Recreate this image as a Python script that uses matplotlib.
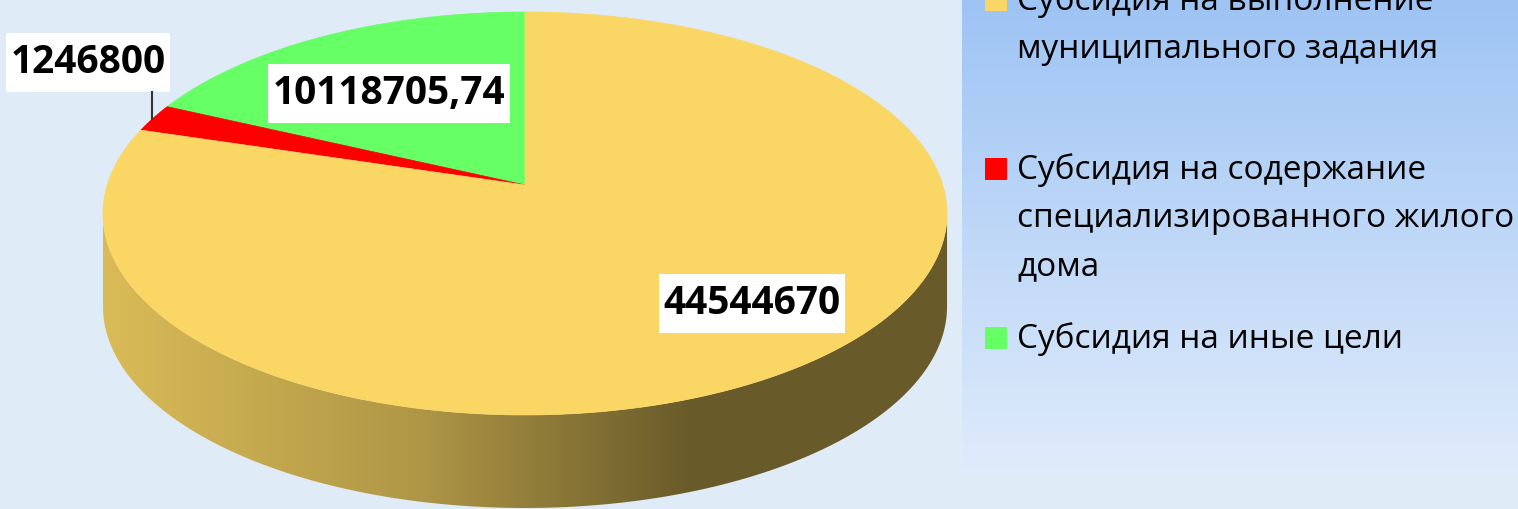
import numpy as np
import matplotlib.pyplot as plt
from matplotlib.patches import Polygon, Rectangle
from matplotlib.colors import to_rgb

# Datos del grafico
etiquetas = ['Субсидия на выполнение\nмуниципального задания',
             'Субсидия на содержание\nспециализированного жилого\nдома',
             'Субсидия на иные цели']
valores = [44544670, 1246800, 10118705.74]
textos = ['44544670', '1246800', '10118705,74']
colores = ['#FAD764', '#FF0000', '#66FF66']

W, H = 1518, 509
fondo = '#DFEBF6'

fig = plt.figure(figsize=(W / 100, H / 100), dpi=100)
fig.patch.set_facecolor(fondo)
ax = fig.add_axes([0, 0, 1, 1])
ax.set_xlim(0, W)
ax.set_ylim(H, 0)
ax.axis('off')

# Proyeccion en perspectiva del disco (coordenadas en pixeles)
cx, cy = 525, 185
a, b, g = 417.8, 171.3, 0.1414
prof = 93


def proyectar(x, y):
    d = 1 + g * y
    return cx + a * x / d, (cy - b * y) / d


def punto(phi, r=1.0):
    # phi en grados, medido desde arriba en sentido antihorario
    t = np.radians(phi)
    return proyectar(-r * np.sin(t), r * np.cos(t))


fracciones = np.array(valores) / np.sum(valores)
# orden de dibujo: verde desde arriba, luego rojo, luego amarillo
orden = [2, 1, 0]
inicio = 0.0
rangos = {}
for i in orden:
    fin = inicio + fracciones[i] * 360
    rangos[i] = (inicio, fin)
    inicio = fin

# Costado visible (frente del cilindro)
phi_izq = np.degrees(np.arccos(-g))
phi_der = 360 - phi_izq
for i in orden:
    p0, p1 = rangos[i]
    s0, s1 = max(p0, phi_izq), min(p1, phi_der)
    if s1 <= s0:
        continue
    ph = np.linspace(s0, s1, 400)
    xs, ys = punto(ph)
    verts = np.vstack([np.column_stack([xs, ys]),
                       np.column_stack([xs[::-1], ys[::-1] + prof])])
    poly = Polygon(verts, closed=True, facecolor='none', edgecolor='none')
    ax.add_patch(poly)
    base = np.array(to_rgb(colores[i]))
    xx = np.linspace(0, 1, 600)
    xpix = xs.min() + xx * (xs.max() - xs.min())
    f = np.interp(xpix, [xs.min(), 420, 690, xs.max()], [0.87, 0.70, 0.42, 0.42])
    grad = (base[None, :] * f[:, None])[None, :, :]
    im = ax.imshow(grad, extent=[xs.min(), xs.max(), ys.max() + prof, ys.min()],
                   aspect='auto', zorder=1, interpolation='bilinear')
    im.set_clip_path(poly)

# Cara superior: sectores proyectados
for i in orden:
    p0, p1 = rangos[i]
    ph = np.linspace(p0, p1, 400)
    xs, ys = punto(ph)
    verts = np.vstack([[proyectar(0, 0)], np.column_stack([xs, ys])])
    ax.add_patch(Polygon(verts, closed=True, facecolor=colores[i],
                         edgecolor=colores[i], linewidth=0.5, zorder=2))

# Etiquetas de datos con recuadro blanco
pos_etq = {0: (752, 303), 1: (88, 62), 2: (389, 93)}
renderer = fig.canvas.get_renderer()
inv = ax.transData.inverted()
for i in range(3):
    x, y = pos_etq[i]
    t = ax.text(x, y, textos[i], ha='center', va='center', fontsize=28,
                fontweight='bold', family=['Open Sans', 'DejaVu Sans'],
                color='black', zorder=5)
    bb = t.get_window_extent(renderer)
    (x0, y1), (x1, y0) = inv.transform([(bb.x0, bb.y0), (bb.x1, bb.y1)])
    ancho = (x1 - x0) + 9
    ax.add_patch(Rectangle((x - ancho / 2, y - 29.5), ancho, 59,
                           facecolor='white', edgecolor='none', zorder=4))

# Linea guia para la etiqueta roja
ax.plot([152, 152], [92, 119], color='#333333', linewidth=1.5, zorder=4)

# Leyenda con fondo degradado
lg_x0, lg_x1, lg_y0, lg_y1 = 962, W, 0, 468
ngrad = np.linspace(0, 1, 256)[:, None]
top = np.array(to_rgb('#9EC4F4'))
bot = np.array(to_rgb('#DFEBFB'))
lgrad = (top[None, None, :] * (1 - ngrad[:, :, None]) + bot[None, None, :] * ngrad[:, :, None])
ax.imshow(lgrad, extent=[lg_x0, lg_x1, lg_y1, lg_y0], aspect='auto', zorder=0)

pos_ley = [0, 169, 338]
for i in range(3):
    y = pos_ley[i]
    ax.add_patch(Rectangle((985, y - 11), 22, 22, facecolor=colores[i],
                           edgecolor='none', zorder=3))
    ax.text(1017, y - 16, etiquetas[i], ha='left', va='top', fontsize=24,
            family=['Open Sans', 'DejaVu Sans'], color='black',
            linespacing=1.6, zorder=3)

fig.savefig('out.png', dpi=100, facecolor=fondo)
